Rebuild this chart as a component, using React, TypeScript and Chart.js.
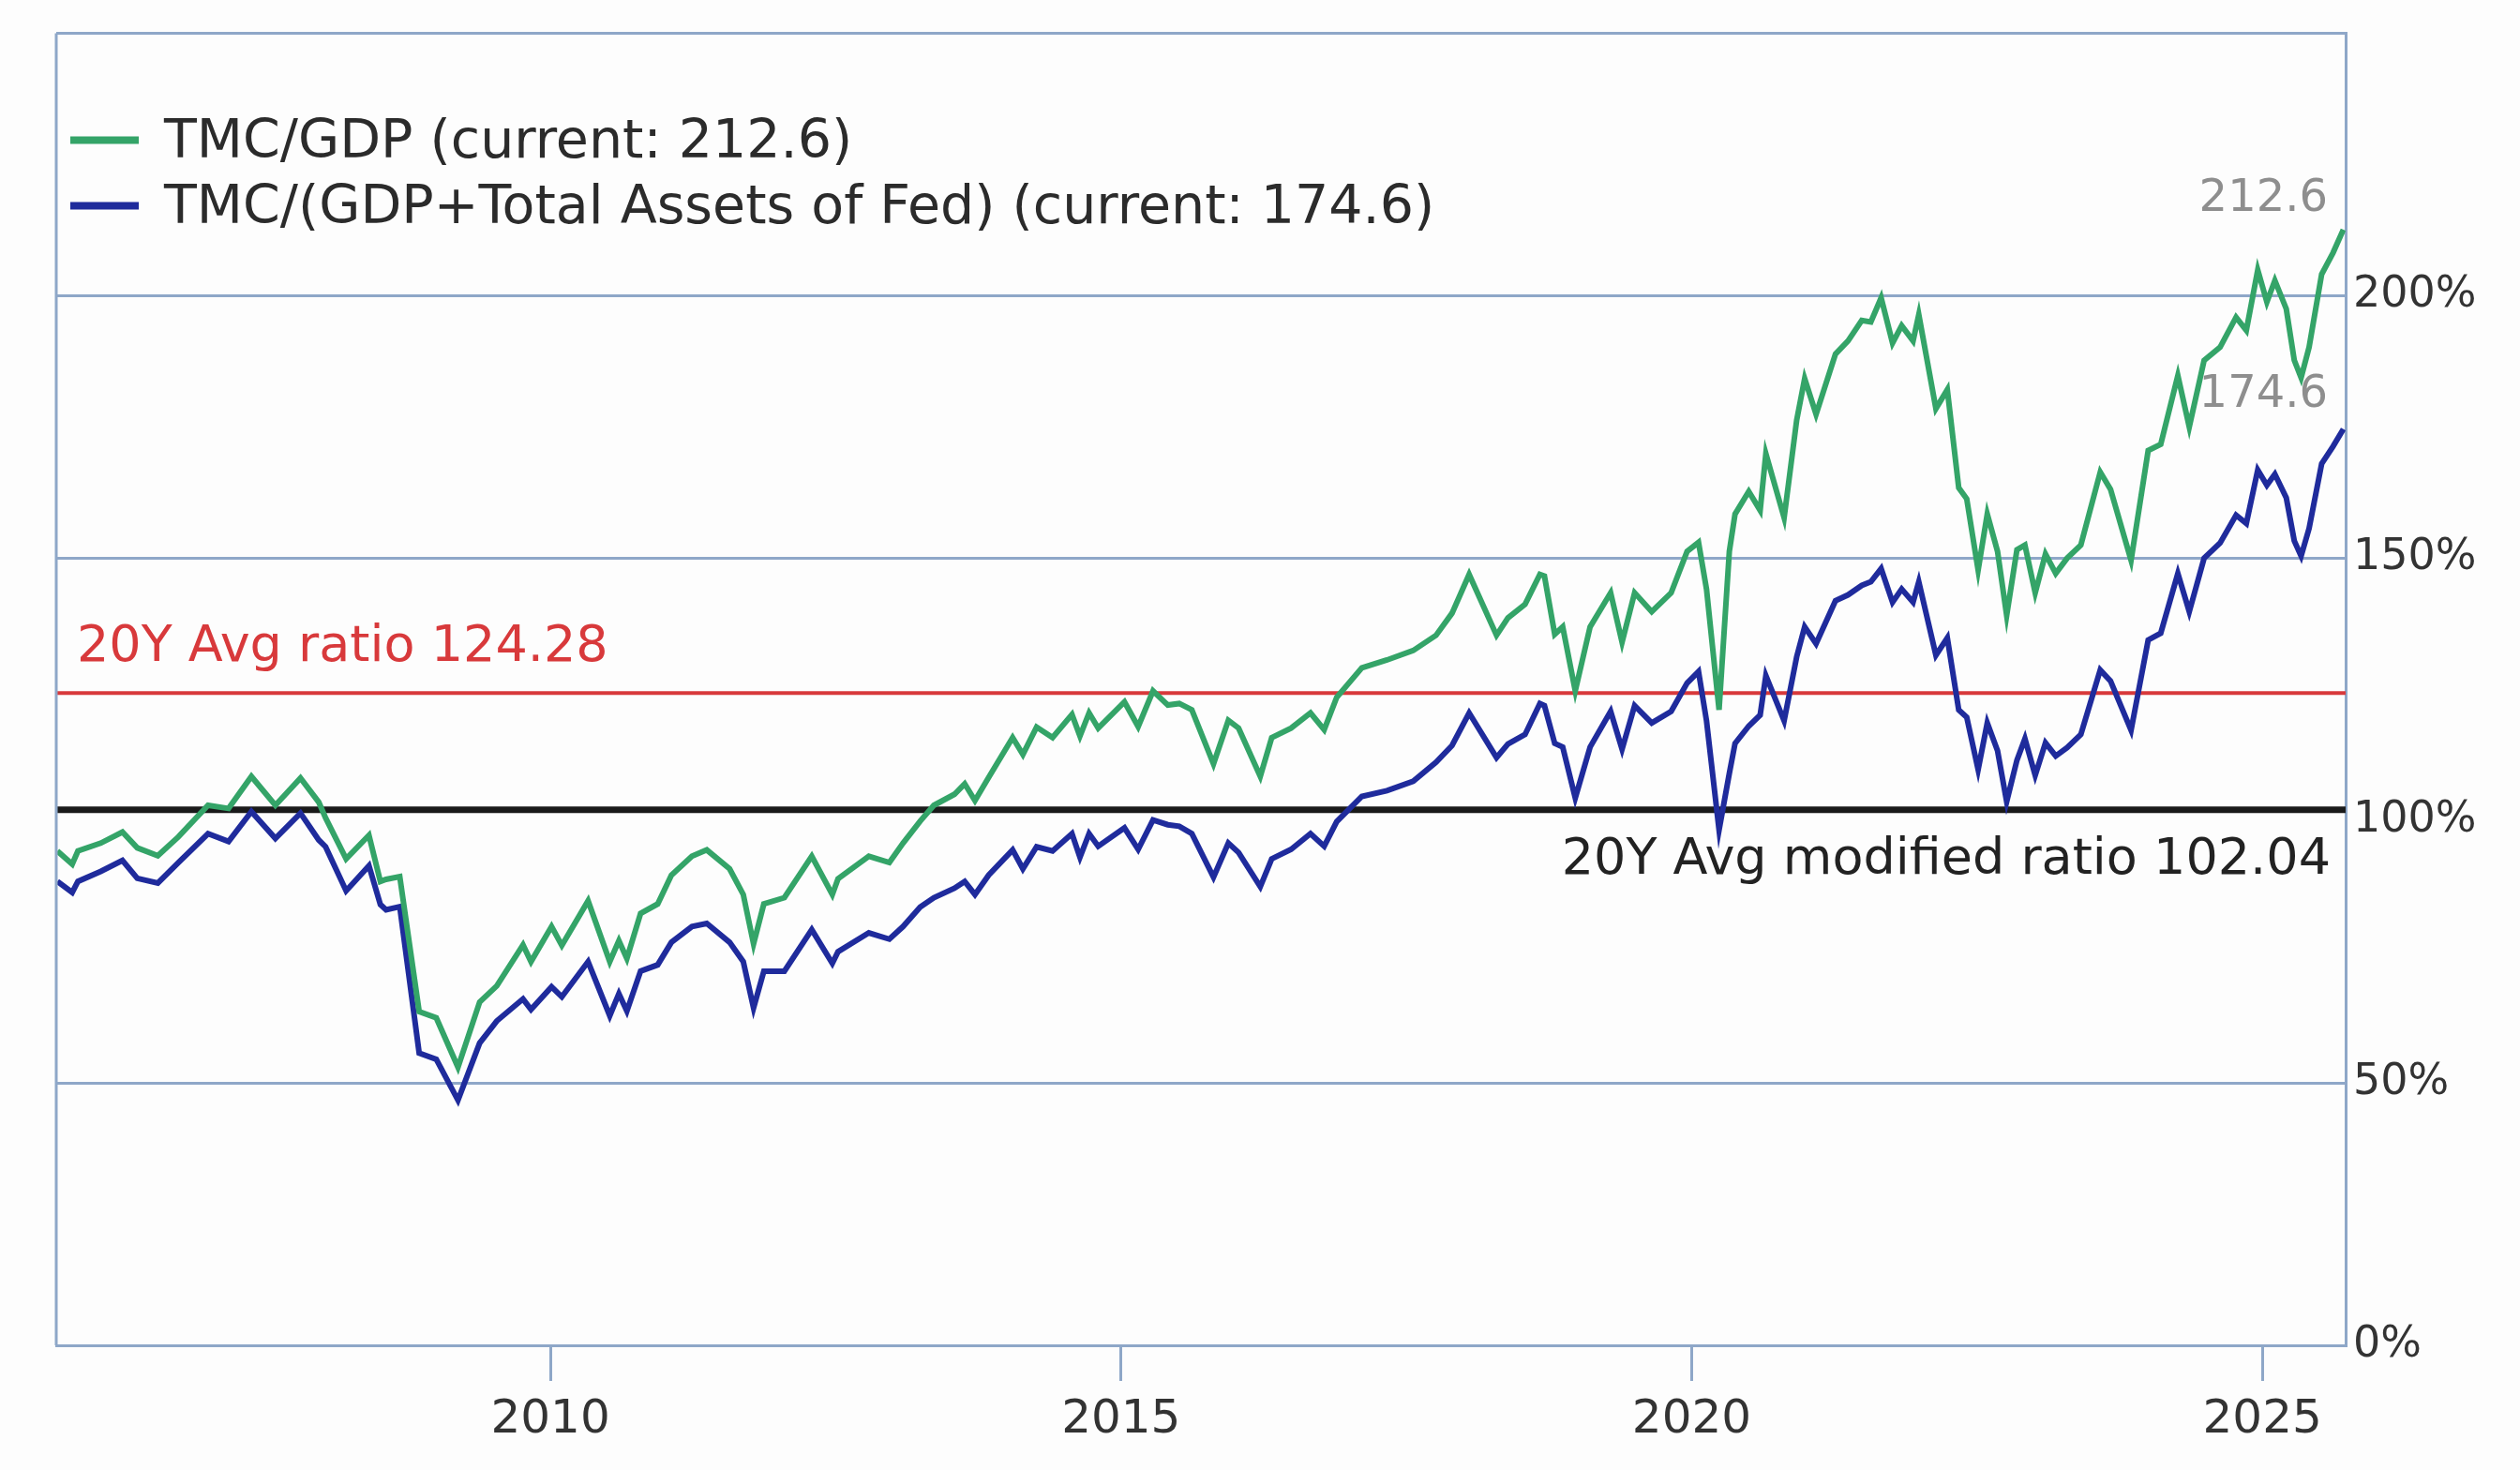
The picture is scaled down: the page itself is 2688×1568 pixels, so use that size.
import React, { useRef, useEffect } from 'react';
import { Chart, registerables } from 'chart.js';
Chart.register(...registerables);

// decimal years, shared by both series
const years = [
  2005.68, 2005.81, 2005.86, 2006.06, 2006.25, 2006.38, 2006.56, 2006.74, 2007.0, 2007.18,
  2007.38, 2007.59, 2007.81, 2007.97, 2008.03, 2008.21, 2008.41, 2008.51, 2008.56, 2008.68,
  2008.85, 2009.0, 2009.19, 2009.38, 2009.53, 2009.76, 2009.83, 2010.01, 2010.1, 2010.33,
  2010.52, 2010.6, 2010.67, 2010.79, 2010.94, 2011.06, 2011.24, 2011.37, 2011.57, 2011.69,
  2011.78, 2011.87, 2012.05, 2012.29, 2012.47, 2012.52, 2012.79, 2012.97, 2013.09, 2013.24,
  2013.36, 2013.54, 2013.63, 2013.72, 2013.84, 2014.05, 2014.14, 2014.26, 2014.4, 2014.57,
  2014.64, 2014.72, 2014.8, 2015.03, 2015.15, 2015.28, 2015.41, 2015.51, 2015.62, 2015.81,
  2015.94, 2016.03, 2016.22, 2016.32, 2016.49, 2016.66, 2016.78, 2016.89, 2017.11, 2017.33,
  2017.56, 2017.76, 2017.9, 2018.05, 2018.29, 2018.39, 2018.54, 2018.67, 2018.71, 2018.8,
  2018.87, 2018.98, 2019.11, 2019.29, 2019.39, 2019.5, 2019.65, 2019.82, 2019.96, 2020.06,
  2020.13, 2020.24, 2020.33, 2020.38, 2020.5, 2020.6, 2020.65, 2020.81, 2020.92, 2020.99,
  2021.09, 2021.26, 2021.37, 2021.49, 2021.57, 2021.66, 2021.76, 2021.84, 2021.94, 2021.99,
  2022.14, 2022.24, 2022.34, 2022.41, 2022.51, 2022.59, 2022.68, 2022.76, 2022.85, 2022.92,
  2023.01, 2023.1, 2023.19, 2023.29, 2023.41, 2023.58, 2023.67, 2023.85, 2024.0, 2024.11,
  2024.26, 2024.36, 2024.49, 2024.63, 2024.77, 2024.86, 2024.96, 2025.04, 2025.11, 2025.21,
  2025.28, 2025.34, 2025.41, 2025.52, 2025.62, 2025.71,
];

// TMC/GDP, %
const tmcGdp = [
  94.2, 91.7, 94.2, 95.7, 97.8, 94.8, 93.3, 96.9, 102.9, 102.3,
  108.4, 102.9, 108.1, 103.5, 100.5, 92.7, 97.2, 88.4, 88.8, 89.3,
  63.6, 62.4, 53.0, 65.4, 68.5, 76.3, 73.1, 79.8, 76.2, 84.7,
  73.1, 77.1, 73.7, 82.3, 84.1, 89.6, 93.2, 94.4, 90.8, 85.9,
  76.5, 84.1, 85.3, 93.2, 85.9, 88.9, 93.2, 92.0, 95.7, 99.9,
  102.9, 105.0, 107.0, 103.8, 108.2, 115.8, 112.6, 117.8, 115.8, 120.2,
  116.1, 120.5, 117.6, 122.6, 117.9, 124.7, 122.0, 122.3, 121.1, 110.8,
  119.1, 117.6, 108.4, 115.8, 117.6, 120.5, 117.3, 123.5, 129.1, 130.6,
  132.4, 135.3, 139.5, 146.9, 135.3, 138.6, 141.2, 146.9, 146.6, 135.5,
  136.9, 124.7, 136.9, 143.4, 134.0, 143.4, 139.8, 143.4, 151.3, 153.0,
  144.1, 121.1, 151.3, 158.4, 162.7, 159.1, 169.9, 157.7, 176.3, 184.2,
  177.4, 188.9, 191.4, 195.3, 195.0, 199.6, 191.0, 194.3, 191.4, 196.4,
  178.5, 182.1, 163.4, 161.3, 147.7, 158.4, 151.3, 139.1, 151.6, 152.5,
  143.4, 150.8, 147.1, 150.0, 152.5, 166.4, 163.1, 149.6, 170.5, 171.7,
  184.8, 175.0, 187.7, 190.2, 195.9, 193.4, 204.9, 198.8, 202.9, 197.5,
  187.7, 184.4, 190.2, 204.1, 208.2, 212.6,
];

// TMC/(GDP + Total Assets of Fed), %
const tmcGdpFed = [
  88.4, 86.3, 88.4, 90.3, 92.4, 89.0, 88.1, 92.0, 97.5, 96.0,
  101.7, 96.6, 101.4, 96.3, 95.0, 86.6, 91.4, 84.0, 83.0, 83.6,
  55.7, 54.5, 46.7, 57.6, 61.8, 66.0, 64.0, 68.3, 66.4, 73.1,
  62.8, 67.0, 63.7, 71.3, 72.5, 76.8, 79.8, 80.4, 76.8, 73.1,
  64.3, 71.3, 71.3, 79.2, 72.8, 75.0, 78.6, 77.4, 79.8, 83.5,
  85.3, 87.1, 88.4, 85.9, 89.6, 94.4, 90.8, 95.0, 94.2, 97.5,
  93.0, 97.5, 95.1, 98.6, 94.5, 100.1, 99.2, 98.9, 97.5, 89.2,
  95.7, 93.9, 87.4, 92.7, 94.5, 97.5, 95.1, 99.8, 104.6, 105.7,
  107.5, 111.1, 114.3, 120.5, 112.0, 114.6, 116.4, 122.3, 121.9, 114.7,
  114.0, 104.3, 114.0, 120.8, 113.6, 121.9, 118.6, 120.8, 126.2, 128.4,
  119.0, 98.2, 109.0, 114.7, 118.0, 120.1, 127.6, 119.0, 131.2, 136.9,
  133.7, 141.9, 143.0, 144.8, 145.5, 148.0, 141.6, 144.1, 141.6, 145.5,
  131.5, 134.8, 121.1, 119.7, 109.7, 118.6, 113.3, 103.6, 111.5, 115.6,
  108.6, 114.8, 112.3, 113.9, 116.4, 128.7, 126.6, 117.2, 134.4, 135.7,
  147.1, 139.8, 150.0, 152.9, 158.2, 156.6, 166.8, 163.9, 166.0, 161.5,
  153.3, 150.4, 155.7, 168.0, 171.3, 174.6,
];

const avgRatio = 124.28;
const avgModifiedRatio = 102.04;
const xTicks = [2010, 2015, 2020, 2025];
const yTicks = [0, 50, 100, 150, 200, 250];
const xMin = 2005.67;
const xMax = 2025.73;

const GREEN = '#34a468';
const BLUE = '#1f2b9c';
const RED = '#d8393b';
const GRID = '#8ea7c8';
const FONT = "'DejaVu Sans', sans-serif";

const greenLast = tmcGdp[tmcGdp.length - 1];
const blueLast = tmcGdpFed[tmcGdpFed.length - 1];

const overlay = {
  id: 'overlay',
  afterDatasetsDraw(chart: any) {
    const { ctx, chartArea: a, scales } = chart;
    const y = scales.y;
    ctx.save();

    // left border of the plot
    ctx.strokeStyle = GRID;
    ctx.lineWidth = 3;
    ctx.beginPath();
    ctx.moveTo(a.left, a.top);
    ctx.lineTo(a.left, a.bottom);
    ctx.stroke();

    // average labels
    ctx.textBaseline = 'alphabetic';
    ctx.font = `54px ${FONT}`;
    ctx.fillStyle = RED;
    ctx.textAlign = 'left';
    ctx.fillText(`20Y Avg ratio ${avgRatio}`, a.left + 22, y.getPixelForValue(avgRatio) - 34);
    ctx.fillStyle = '#222';
    ctx.textAlign = 'right';
    ctx.fillText(`20Y Avg modified ratio ${avgModifiedRatio}`, a.right - 16, y.getPixelForValue(avgModifiedRatio) + 68);

    // current values
    ctx.font = `48px ${FONT}`;
    ctx.fillStyle = '#8e8e8e';
    ctx.fillText(greenLast.toFixed(1), a.right - 19, y.getPixelForValue(greenLast) - 20);
    ctx.fillText(blueLast.toFixed(1), a.right - 19, y.getPixelForValue(blueLast) - 24);

    // legend
    const items = [
      { color: GREEN, text: `TMC/GDP (current: ${greenLast.toFixed(1)})`, y: a.top + 114 },
      { color: BLUE, text: `TMC/(GDP+Total Assets of Fed) (current: ${blueLast.toFixed(1)})`, y: a.top + 184 },
    ];
    ctx.font = `57px ${FONT}`;
    ctx.textAlign = 'left';
    items.forEach((it) => {
      ctx.strokeStyle = it.color;
      ctx.lineWidth = 8;
      ctx.beginPath();
      ctx.moveTo(a.left + 15, it.y);
      ctx.lineTo(a.left + 88, it.y);
      ctx.stroke();
      ctx.fillStyle = '#2b2b2b';
      ctx.fillText(it.text, a.left + 115, it.y + 18);
    });

    ctx.restore();
  },
};

const App: React.FC = () => {
  const chartRef = useRef<HTMLCanvasElement | null>(null);
  const chartInstance = useRef<Chart | null>(null);

  useEffect(() => {
    document.body.style.margin = '0';
    document.body.style.background = '#fdfdfd';
    if (chartInstance.current) {
      chartInstance.current.destroy();
    }
    const ctx = chartRef.current?.getContext('2d');
    if (ctx) {
      chartInstance.current = new Chart(ctx, {
        type: 'line',
        data: {
          datasets: [
            {
              label: 'TMC/GDP',
              data: years.map((x, i) => ({ x, y: tmcGdp[i] })),
              borderColor: GREEN,
              borderWidth: 6,
              pointRadius: 0,
              tension: 0,
            },
            {
              label: 'TMC/(GDP+Total Assets of Fed)',
              data: years.map((x, i) => ({ x, y: tmcGdpFed[i] })),
              borderColor: BLUE,
              borderWidth: 6,
              pointRadius: 0,
              tension: 0,
            },
            {
              label: '20Y Avg ratio',
              data: [{ x: xMin, y: avgRatio }, { x: xMax, y: avgRatio }],
              borderColor: RED,
              borderWidth: 4,
              pointRadius: 0,
            },
            {
              label: '20Y Avg modified ratio',
              data: [{ x: xMin, y: avgModifiedRatio }, { x: xMax, y: avgModifiedRatio }],
              borderColor: '#1a1a1a',
              borderWidth: 7,
              pointRadius: 0,
            },
          ],
        },
        options: {
          animation: false,
          responsive: true,
          maintainAspectRatio: false,
          devicePixelRatio: 1,
          layout: { padding: { left: 60, top: 35, right: 0, bottom: 0 } },
          plugins: {
            legend: { display: false },
            tooltip: { enabled: false },
          },
          scales: {
            x: {
              type: 'linear',
              min: xMin,
              max: xMax,
              afterBuildTicks: (scale: any) => {
                scale.ticks = xTicks.map((v) => ({ value: v }));
              },
              afterFit: (scale: any) => {
                scale.height = 133;
              },
              grid: {
                drawOnChartArea: false,
                drawTicks: true,
                tickLength: 38,
                color: GRID,
                lineWidth: 3,
              },
              border: { display: true, color: GRID, width: 3 },
              ticks: {
                autoSkip: false,
                maxRotation: 0,
                padding: 12,
                color: '#333',
                font: { family: FONT, size: 50 },
                callback: (v: any) => String(v),
              },
            },
            y: {
              position: 'right',
              min: 0,
              max: 250,
              afterBuildTicks: (scale: any) => {
                scale.ticks = yTicks.map((v) => ({ value: v }));
              },
              afterFit: (scale: any) => {
                scale.width = 186;
              },
              grid: {
                drawTicks: false,
                // the 100% line sits under the modified-average line
                color: (c: any) => (c.tick && c.tick.value === 100 ? 'rgba(0,0,0,0)' : GRID),
                lineWidth: 3,
              },
              border: { display: true, color: GRID, width: 3 },
              ticks: {
                padding: 8,
                color: '#333',
                font: { family: FONT, size: 46 },
                callback: (v: any) => (v === 250 ? '' : `${v}%`),
              },
            },
          },
        },
        plugins: [overlay],
      });
    }
    return () => {
      if (chartInstance.current) {
        chartInstance.current.destroy();
      }
    };
  }, []);

  return (
    <div style={{ width: 2688, height: 1568, background: '#fdfdfd' }}>
      <canvas ref={chartRef} />
    </div>
  );
};

export default App;
